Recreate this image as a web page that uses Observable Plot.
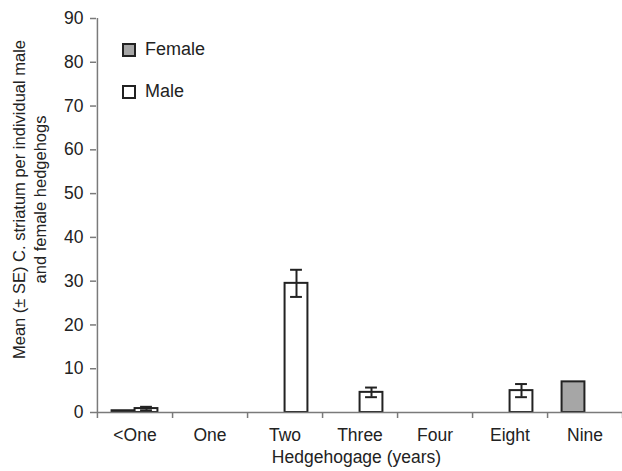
<!DOCTYPE html>
<html>
<head>
<meta charset="utf-8">
<script src="https://cdn.jsdelivr.net/npm/d3@7"></script>
<script src="https://cdn.jsdelivr.net/npm/@observablehq/plot@0.6"></script>
<style>
  html, body { margin: 0; padding: 0; background: #fff; }
  #wrap { position: relative; width: 622px; height: 471px; font-family: "Liberation Sans", Arial, sans-serif; }
  .leg { position: absolute; left: 122px; display: flex; align-items: center; font-size: 18px; color: #222; }
  .sw { width: 10px; height: 10px; border: 2px solid #222; margin-right: 9px; }
</style>
</head>
<body>
<div id="wrap">
  <div class="leg" style="top:39px"><div class="sw" style="background:#a6a6a6"></div>Female</div>
  <div class="leg" style="top:81px"><div class="sw" style="background:#fff"></div>Male</div>
</div>
<script>
const ages = ["<One", "One", "Two", "Three", "Four", "Eight", "Nine"];
const femaleMean = [0.4, 0, 0, 0, 0, 0, 7.0];
const femaleSE   = [0, 0, 0, 0, 0, 0, 0];
const maleMean   = [0.9, 0, 29.5, 4.6, 0, 5.0, 0];
const maleSE     = [0.4, 0, 3.1, 1.1, 0, 1.5, 0];
const yTicks = [0, 10, 20, 30, 40, 50, 60, 70, 80, 90];
const yLabel = "Mean (\u00b1 SE) C. striatum per individual male\nand female hedgehogs";
const xLabel = "Hedgehogage (years)";

const female = ages.map((a, i) => ({age: a, mean: femaleMean[i], se: femaleSE[i]})).filter(d => d.mean > 0);
const male = ages.map((a, i) => ({age: a, mean: maleMean[i], se: maleSE[i]})).filter(d => d.mean > 0);
const maleErr = male.filter(d => d.se > 0);

const W = 622, H = 471, mL = 96, mR = 0, mT = 18, mB = 59;
const bw = (W - mL - mR) / ages.length;
const barW = 23;
const capW = 12;
const plotH = H - mT - mB;
const font = "'Liberation Sans', Arial, sans-serif";

const chart = Plot.plot({
  width: W, height: H,
  marginLeft: mL, marginRight: mR, marginTop: mT, marginBottom: mB,
  style: {fontFamily: font, fontSize: "17.5px", color: "#222", background: "transparent"},
  x: {domain: ages, padding: 0, axis: null},
  y: {domain: [0, 90], axis: null},
  marks: [
    Plot.barY(female, {x: "age", y: "mean", insetLeft: bw / 2 - barW, insetRight: bw / 2,
      fill: "#a6a6a6", stroke: "#222", strokeWidth: 2}),
    Plot.barY(male, {x: "age", y: "mean", insetLeft: bw / 2, insetRight: bw / 2 - barW,
      fill: "#fff", stroke: "#222", strokeWidth: 2}),
    Plot.ruleX(maleErr, {x: "age", y1: d => d.mean - d.se, y2: d => d.mean + d.se, dx: barW / 2,
      stroke: "#222", strokeWidth: 2}),
    Plot.tickY(maleErr, {x: "age", y: d => d.mean + d.se,
      insetLeft: bw / 2 + barW / 2 - capW / 2, insetRight: bw / 2 - barW / 2 - capW / 2,
      stroke: "#222", strokeWidth: 2}),
    Plot.tickY(maleErr, {x: "age", y: d => d.mean - d.se,
      insetLeft: bw / 2 + barW / 2 - capW / 2, insetRight: bw / 2 - barW / 2 - capW / 2,
      stroke: "#222", strokeWidth: 2}),
    Plot.ruleY([0], {stroke: "#7a7a7a", strokeWidth: 1.5}),
    Plot.ruleX([ages[0]], {dx: -bw / 2, insetBottom: -6, stroke: "#7a7a7a", strokeWidth: 1.5}),
    Plot.ruleX(ages, {x: d => d, dx: bw / 2, insetTop: plotH, insetBottom: -6, stroke: "#7a7a7a", strokeWidth: 1.5}),
    Plot.axisY(yTicks, {tickSize: 6, tickPadding: 7, stroke: "#7a7a7a", strokeWidth: 1.5, fill: "#222", fontSize: 17.5, label: null}),
    Plot.axisX({tickSize: 0, tickPadding: 16, fill: "#222", fontSize: 17.5, label: null}),
    Plot.text([xLabel], {text: d => d, frameAnchor: "bottom", dy: 50, dx: -3, fill: "#222", fontSize: 17.5}),
    Plot.text([yLabel], {text: d => d, frameAnchor: "left", textAnchor: "middle", rotate: -90, dx: -68, dy: -16,
      lineHeight: 1.3, fill: "#222", fontSize: 16.5})
  ]
});
document.getElementById("wrap").appendChild(chart);
</script>
</body>
</html>
